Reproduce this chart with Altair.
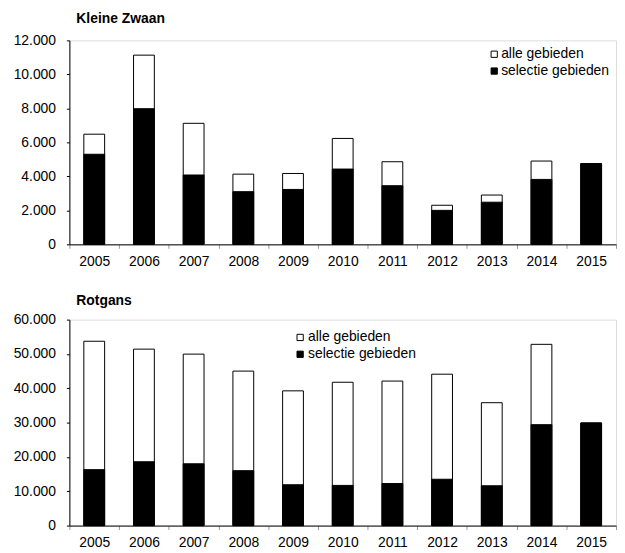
import altair as alt
import pandas as pd

years = ["2005", "2006", "2007", "2008", "2009", "2010", "2011", "2012", "2013", "2014", "2015"]
series = ["alle gebieden", "selectie gebieden"]

kz_alle = [6480, 11130, 7120, 4130, 4170, 6230, 4860, 2300, 2900, 4900, 4750]
kz_sel = [5300, 7980, 4080, 3100, 3230, 4430, 3450, 2000, 2480, 3820, 4750]
rg_alle = [53700, 51400, 49950, 45000, 39250, 41750, 42100, 44100, 35800, 52800, 29900]
rg_sel = [16300, 18600, 18000, 16000, 11900, 11700, 12250, 13500, 11600, 29400, 29900]

kz_ticks = [0, 2000, 4000, 6000, 8000, 10000, 12000]
rg_ticks = [0, 10000, 20000, 30000, 40000, 50000, 60000]

FONT = "Liberation Sans"


def long_df(alle, sel):
    rows = []
    for i, y in enumerate(years):
        rows.append({"jaar": y, "reeks": series[0], "aantal": alle[i], "volg": 0})
    for i, y in enumerate(years):
        rows.append({"jaar": y, "reeks": series[1], "aantal": sel[i], "volg": 1})
    return pd.DataFrame(rows)


def panel(title, alle, sel, ticks, h, title_offset, lx, ly, lab_off, xpad):
    df = long_df(alle, sel)
    return (
        alt.Chart(df)
        .mark_bar(size=21, stroke="black", strokeWidth=1)
        .encode(
            x=alt.X(
                "jaar:N",
                sort=years,
                title=None,
                scale=alt.Scale(paddingInner=0, paddingOuter=0),
                axis=alt.Axis(
                    labelAngle=0,
                    labelFontSize=14,
                    labelFont=FONT,
                    labelColor="black",
                    labelPadding=xpad,
                    tickBand="extent",
                    tickSize=4,
                    tickColor="#999999",
                    domainColor="black",
                    grid=False,
                ),
            ),
            y=alt.Y(
                "aantal:Q",
                stack=None,
                title=None,
                scale=alt.Scale(domain=[ticks[0], ticks[-1]], nice=False),
                axis=alt.Axis(
                    values=ticks,
                    labelExpr="replace(format(datum.value, ','), ',', '.')",
                    labelFontSize=14,
                    labelFont=FONT,
                    labelColor="black",
                    labelPadding=11,
                    tickSize=3,
                    tickColor="black",
                    domainColor="black",
                    grid=False,
                    minExtent=61,
                    maxExtent=61,
                ),
            ),
            color=alt.Color(
                "reeks:N",
                scale=alt.Scale(domain=series, range=["white", "black"]),
                legend=alt.Legend(
                    title=None,
                    orient="none",
                    legendX=lx,
                    legendY=ly,
                    symbolType="square",
                    symbolSize=40,
                    symbolStrokeColor="black",
                    symbolStrokeWidth=1,
                    symbolOpacity=1,
                    labelFontSize=14,
                    labelFont=FONT,
                    labelColor="black",
                    labelOffset=lab_off,
                    rowPadding=3,
                    padding=0,
                ),
            ),
            order=alt.Order("volg:Q"),
        )
        .properties(
            width=552,
            height=h,
            title=alt.TitleParams(
                title,
                anchor="start",
                frame="group",
                dx=7,
                fontSize=14,
                fontWeight="bold",
                font=FONT,
                color="black",
                offset=title_offset,
            ),
        )
    )


top = panel("Kleine Zwaan", kz_alle, kz_sel, kz_ticks, 206, 8, 422, 7, 0, 6)
bottom = panel("Rotgans", rg_alle, rg_sel, rg_ticks, 208, 5, 226, 11, 1, 6)

chart = (
    alt.vconcat(top, bottom, spacing=24)
    .resolve_scale(color="independent", y="independent")
    .resolve_legend(color="independent")
    .properties(padding=0)
    .configure_view(stroke="black", strokeWidth=1)
    .configure(font=FONT)
)

chart.save("out.html", embed_options={"renderer": "svg", "actions": False})
